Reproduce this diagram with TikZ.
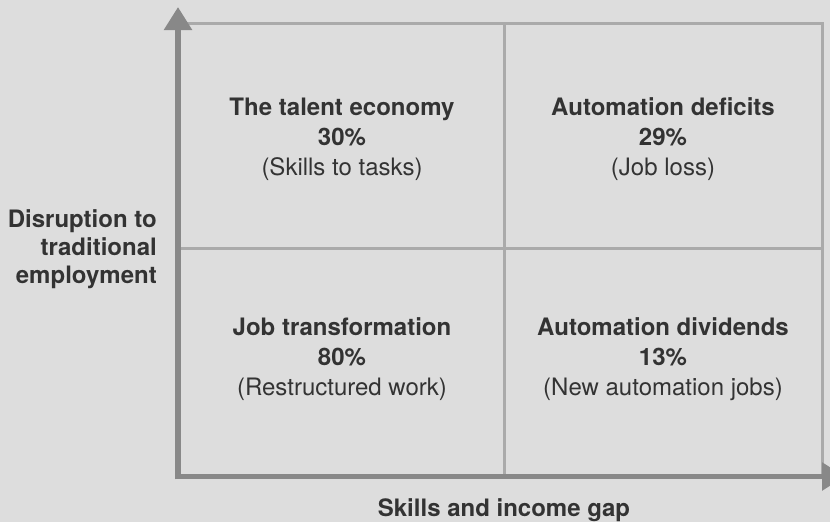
\documentclass[tikz,border=0pt]{standalone}
\usepackage{fontspec}
\setmainfont{TeX Gyre Heros}
\usetikzlibrary{arrows.meta}
\definecolor{bg}{HTML}{DDDDDD}
\definecolor{axiscol}{HTML}{888888}
\definecolor{gridcol}{HTML}{AAAAAA}
\definecolor{txt}{HTML}{333333}
\tikzset{
  gridline/.style={draw=gridcol, line width=3pt},
  axisline/.style={draw=axiscol, line width=5.5pt, -{Triangle[length=23pt,width=27pt]}},
  ttl/.style={anchor=base, text=txt, font=\fontsize{24}{28}\selectfont\bfseries, inner sep=0pt},
  sub/.style={anchor=base, text=txt, font=\fontsize{24}{28}\selectfont, inner sep=0pt},
  ylab/.style={anchor=base east, text=txt, font=\fontsize{24}{28}\selectfont\bfseries, inner sep=0pt}
}
\begin{document}
\begin{tikzpicture}[x=1pt,y=-1pt]
\fill[bg] (0,0) rectangle (830,522);
\useasboundingbox (0,0) rectangle (830,522);
\clip (0,0) rectangle (830,522);
% grid corners
\coordinate (tl) at (178,23.5);
\coordinate (tm) at (504,23.5);
\coordinate (tr) at (822,23.5);
\coordinate (ml) at (178,248);
\coordinate (mr) at (822,248);
\coordinate (bm) at (504,476.5);
\coordinate (br) at (822,476.5);
\draw[gridline] (tl) -- (tr) -- (br);
\draw[gridline] (tm) -- (bm);
\draw[gridline] (ml) -- (mr);
% axes
\coordinate (ybot) at (178,479.25);
\coordinate (ytip) at (178,7);
\coordinate (xleft) at (175.25,476.5);
\coordinate (xtip) at (845,476.5);
\draw[axisline] (ybot) -- (ytip);
\draw[axisline] (xleft) -- (xtip);
% quadrant texts
\node[ttl] (q1a) at (342,115) {The talent economy};
\node[ttl] (q1b) at (342,145) {30\%};
\node[sub] (q1c) at (342,175) {(Skills to tasks)};
\node[ttl] (q2a) at (663,115) {Automation deficits};
\node[ttl] (q2b) at (663,145) {29\%};
\node[sub] (q2c) at (663,175) {(Job loss)};
\node[ttl] (q3a) at (342,335) {Job transformation};
\node[ttl] (q3b) at (342,365) {80\%};
\node[sub] (q3c) at (342,395) {(Restructured work)};
\node[ttl] (q4a) at (663,335) {Automation dividends};
\node[ttl] (q4b) at (663,365) {13\%};
\node[sub] (q4c) at (663,395) {(New automation jobs)};
% axis labels
\node[ylab] (y1) at (157,227) {Disruption to};
\node[ylab] (y2) at (157,255) {traditional};
\node[ylab] (y3) at (157,283) {employment};
\node[ttl] (xl) at (504,516) {Skills and income gap};
\end{tikzpicture}
\end{document}
